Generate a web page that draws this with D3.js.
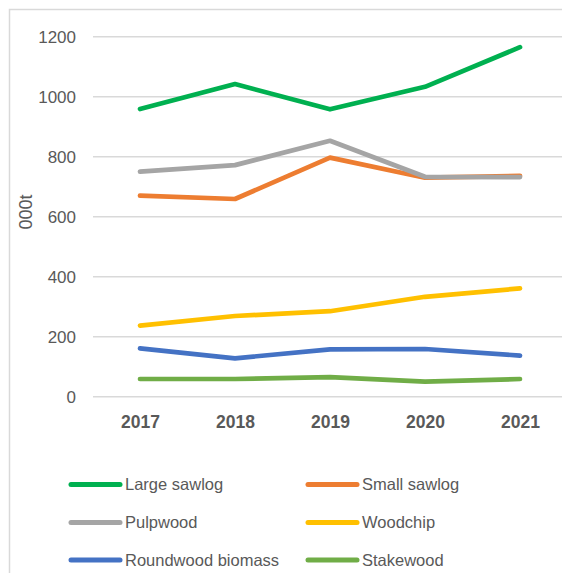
<!DOCTYPE html>
<html>
<head>
<meta charset="utf-8">
<script src="https://cdn.jsdelivr.net/npm/d3@7"></script>
<style>
  html, body { margin: 0; padding: 0; background: #fff; }
  svg { display: block; font-family: "Liberation Sans", Arial, sans-serif; }
</style>
</head>
<body>
<svg id="chart" width="562" height="573"></svg>
<script>
// Roundwood removals by product, thousand tonnes
const years = ["2017", "2018", "2019", "2020", "2021"];
const seriesNames = ["Large sawlog", "Small sawlog", "Pulpwood", "Woodchip", "Roundwood biomass", "Stakewood"];
const largeSawlog = [959, 1042, 958, 1033, 1165];
const smallSawlog = [670, 659, 797, 730, 736];
const pulpwood = [750, 772, 853, 733, 732];
const woodchip = [237, 269, 285, 333, 361];
const roundwoodBiomass = [161, 128, 158, 159, 137];
const stakewood = [59, 59, 65, 50, 59];
const yTicks = [0, 200, 400, 600, 800, 1000, 1200];
const colors = ["#00b050", "#ed7d31", "#a5a5a5", "#ffc000", "#4472c4", "#70ad47"];

const seriesValues = [largeSawlog, smallSawlog, pulpwood, woodchip, roundwoodBiomass, stakewood];
const series = seriesNames.map((name, i) => ({
  name, color: colors[i],
  values: years.map((y, j) => ({ year: y, value: seriesValues[i][j] }))
}));

const svg = d3.select("#chart");

// outer frame
svg.append("rect")
  .attr("x", 9.5).attr("y", 9.5)
  .attr("width", 600).attr("height", 600)
  .attr("fill", "none").attr("stroke", "#d9d9d9").attr("stroke-width", 1.5);

const x = d3.scalePoint().domain(years).range([92.5, 567.5]).padding(0.5);
const y = d3.scaleLinear().domain([0, 1200]).range([396.7, 36.7]);

// horizontal gridlines
svg.append("g").selectAll("line").data(yTicks).join("line")
  .attr("x1", 93).attr("x2", 568)
  .attr("y1", d => y(d)).attr("y2", d => y(d))
  .attr("stroke", "#d9d9d9").attr("stroke-width", 1.5);

// y axis labels
const yAxis = d3.axisLeft(y).tickValues(yTicks).tickFormat(d3.format("d")).tickSize(0).tickPadding(0);
const gy = svg.append("g").attr("transform", "translate(76,0)").call(yAxis);
gy.select(".domain").remove();
gy.selectAll("text")
  .attr("fill", "#595959").attr("font-size", 17)
  .attr("font-family", "Liberation Sans, Arial, sans-serif")
  .attr("dy", "0.35em");

// x axis labels
const xAxis = d3.axisBottom(x).tickSize(0).tickPadding(0);
const gx = svg.append("g").attr("transform", "translate(0,416)").call(xAxis);
gx.select(".domain").remove();
gx.selectAll("text")
  .attr("fill", "#595959").attr("font-size", 17.5).attr("font-weight", "bold")
  .attr("font-family", "Liberation Sans, Arial, sans-serif")
  .attr("dy", "0.71em");

// y axis title
svg.append("text")
  .attr("transform", "translate(32,212) rotate(-90)")
  .attr("text-anchor", "middle")
  .attr("fill", "#595959").attr("font-size", 18)
  .text("000t");

// series lines
const line = d3.line().x(d => x(d.year)).y(d => y(d.value));
svg.append("g").selectAll("path").data(series).join("path")
  .attr("d", d => line(d.values))
  .attr("fill", "none")
  .attr("stroke", d => d.color)
  .attr("stroke-width", 4.7)
  .attr("stroke-linecap", "round")
  .attr("stroke-linejoin", "round");

// legend, two columns
const legend = svg.append("g").selectAll("g").data(series).join("g")
  .attr("transform", (d, i) => `translate(${i % 2 === 0 ? 71 : 308},${[484.5, 522.5, 560][Math.floor(i / 2)]})`);
legend.append("line")
  .attr("x1", 0).attr("x2", 49).attr("y1", 0).attr("y2", 0)
  .attr("stroke", d => d.color).attr("stroke-width", 5)
  .attr("stroke-linecap", "round");
legend.append("text")
  .attr("x", 54).attr("y", 0).attr("dy", "0.35em")
  .attr("fill", "#595959").attr("font-size", 16.5)
  .text(d => d.name);
</script>
</body>
</html>
